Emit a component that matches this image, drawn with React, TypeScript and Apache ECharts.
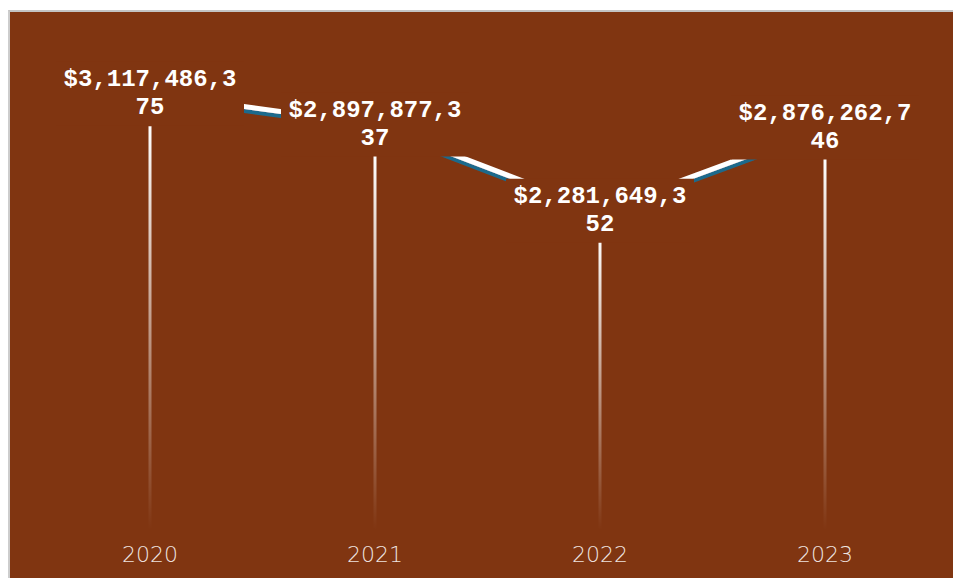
import React, { useEffect, useRef } from "react";
import * as echarts from "echarts";

const years = ["2020", "2021", "2022", "2023"];
const totals = [3117486375, 2897877337, 2281649352, 2876262746];

const BG = "#803511";

export default function App() {
  const ref = useRef<HTMLDivElement>(null);

  useEffect(() => {
    if (!ref.current) return;
    const chart = echarts.init(ref.current, undefined, { renderer: "svg" });
    const fmt = (v: number) => "$" + v.toLocaleString("en-US");
    chart.setOption({
      animation: false,
      backgroundColor: BG,
      grid: { left: 27.5, right: 15.5, top: 26, bottom: 48 },
      xAxis: {
        type: "category",
        data: years,
        axisLine: { show: false },
        axisTick: { show: false },
        splitLine: { show: false },
        axisLabel: {
          margin: 13,
          fontFamily: "DejaVu Sans",
          fontWeight: 200,
          fontSize: 22,
          color: "rgba(255,255,255,0.88)",
        },
      },
      yAxis: [
        { type: "value", show: false, min: 0, max: 3800000000, splitLine: { show: false } },
        { type: "value", show: false, min: 0, max: 3515000000, splitLine: { show: false } },
      ],
      series: [
        {
          type: "bar",
          yAxisIndex: 0,
          data: totals,
          barWidth: 3,
          itemStyle: {
            color: new echarts.graphic.LinearGradient(0, 0, 0, 1, [
              { offset: 0, color: "rgba(255,255,255,1)" },
              { offset: 1, color: "rgba(255,255,255,0)" },
            ]),
          },
        },
        {
          type: "line",
          yAxisIndex: 1,
          data: totals,
          symbol: "circle",
          symbolSize: 1,
          itemStyle: { color: "rgba(255,255,255,0)" },
          lineStyle: {
            color: "#ffffff",
            width: 5,
            shadowColor: "#1b6a8c",
            shadowBlur: 0,
            shadowOffsetX: 0,
            shadowOffsetY: 4,
          },
          label: {
            show: true,
            position: "inside",
            formatter: (p: any) => fmt(p.value),
            width: 180,
            overflow: "breakAll",
            color: "#ffffff",
            fontFamily: "Liberation Mono",
            fontWeight: "bold",
            fontSize: 24,
            lineHeight: 28,
            align: "center",
            backgroundColor: BG,
            padding: [4, 4],
          },
          z: 3,
        },
      ],
    });
    return () => chart.dispose();
  }, []);

  return (
    <div
      style={{
        position: "absolute",
        left: 8,
        top: 10,
        borderLeft: "2px solid #cdcdcd",
        borderTop: "2px solid #c4c4c4",
      }}
    >
      <div ref={ref} style={{ width: 943, height: 566 }} />
    </div>
  );
}
